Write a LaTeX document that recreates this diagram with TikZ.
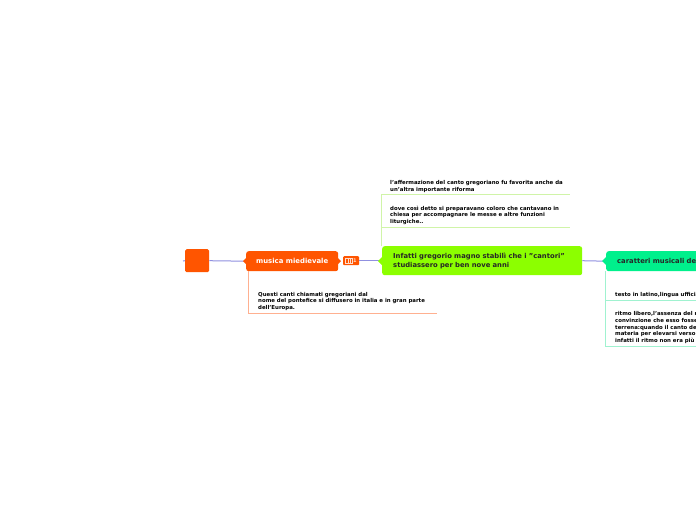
\documentclass[tikz,border=0pt]{standalone}
\usepackage{fontspec}
\setmainfont{DejaVu Sans}
\begin{document}
\begin{tikzpicture}[x=1pt,y=-1pt,
  every node/.style={font=\bfseries},
  conn/.style={draw=lineblue,line width=1pt},
  kid/.style={anchor=north west,inner sep=0pt,align=left,font=\bfseries\fontsize{5.4}{6.6}\selectfont,text=black},
  topic/.style={rounded corners=2.5pt,anchor=north west,inner sep=0pt},
]
\definecolor{orangeM}{HTML}{FF5500}
\definecolor{greenM}{HTML}{8CFF00}
\definecolor{tealM}{HTML}{00F08C}
\definecolor{lineblue}{HTML}{9090E0}
\definecolor{lineO}{HTML}{FFB090}
\definecolor{lineG}{HTML}{D0F4A8}
\definecolor{lineT}{HTML}{A0F2D0}
\useasboundingbox (0,0) rectangle (696,520);
\clip (0,0) rectangle (696,520);
\fill[white] (0,0) rectangle (696,520);

% nodes
\node[topic,fill=orangeM,minimum width=24pt,minimum height=23pt,rounded corners=1.5pt] (root) at (185,249) {};
\node[topic,fill=orangeM,minimum width=92pt,minimum height=20pt,text=white,font=\bfseries\fontsize{6.9}{8}\selectfont] (mm) at (246,251) {musica miedievale};
\node[anchor=north west,fill=orangeM,rounded corners=1pt,minimum width=16pt,minimum height=9pt,inner sep=0pt] (badge) at (343,256) {};
\draw[white!80!orangeM,line width=0.4pt] (345.5,258) rectangle (352,263);
\draw[white!80!orangeM,line width=0.3pt] (347.7,258)--(347.7,263) (349.8,258)--(349.8,263);
\node[anchor=west,inner sep=0pt,text=white!80!orangeM,font=\bfseries\fontsize{5}{6}\selectfont] at (353,260.5) {1};
\node[topic,fill=greenM,minimum width=196pt,minimum height=29pt,text width=178pt,align=left,inner xsep=11pt,text=black!85,font=\bfseries\fontsize{6.8}{9.2}\selectfont] (gr) at (382,246) {Infatti gregorio magno stabilì che i "cantori"\\studiassero per ben nove anni};
\node[topic,fill=tealM,minimum width=180pt,minimum height=20pt,text width=170pt,align=left,inner xsep=11pt,text=black!85,font=\bfseries\fontsize{6.8}{8}\selectfont] (te) at (606,251) {caratteri musicali del};

% main connectors
\draw[conn] (root.east) -- (mm.west);
\draw[conn] (badge.east) -- (gr.west);
\draw[conn] (gr.east) -- (te.west);
\draw[lineblue,line width=1pt] (183,261) -- (root.west);
\fill[orangeM] (246,258) -- (243,261) -- (246,264) -- cycle;
\fill[greenM] (382,257) -- (378,261) -- (382,265) -- cycle;
\fill[greenM] (578,257) -- (582,261) -- (578,265) -- cycle;
\fill[tealM] (606,257) -- (602,261) -- (606,265) -- cycle;
\fill[orangeM] (338,258) -- (341,261) -- (338,264) -- cycle;

% children of musica
\coordinate (mo1) at (248,313);
\coordinate (mo1e) at (437,313);
\draw[lineO,line width=0.8pt] (mm.south west -| mo1) -- (mo1) -- (mo1e);
\node[kid] (q1) at (258,292) {Questi canti chiamati gregoriani dal\\nome del pontefice si diffusero in italia e in gran parte\\dell'Europa.};

% children of gregorio
\coordinate (g1) at (381,194);
\coordinate (g1e) at (570,194);
\coordinate (g2) at (381,227);
\coordinate (g2e) at (570,227);
\draw[lineG,line width=0.8pt] (gr.north west -| g1) -- (g1) -- (g1e);
\draw[lineG,line width=0.8pt] (g2) -- (g2e);
\node[kid] (a1) at (390,180.5) {l'affermazione del canto gregoriano fu favorita anche da\\un'altra importante riforma};
\node[kid] (a2) at (390,205.5) {dove così detto si preparavano coloro che cantavano in\\chiesa per accompagnare le messe e altre funzioni\\liturgiche..};

% children of caratteri
\coordinate (t1) at (605,300);
\coordinate (t1e) at (700,300);
\coordinate (t2) at (605,346);
\coordinate (t2e) at (700,346);
\draw[lineT,line width=0.8pt] (te.south west -| t1) -- (t2) -- (t2e);
\draw[lineT,line width=0.8pt] (t1) -- (t1e);
\node[kid] (b1) at (615,292.5) {testo in latino,lingua ufficiale};
\node[kid] (b2) at (615,311.5) {ritmo libero,l'assenza del ritmo\\convinzione che esso fosse\\terrena:quando il canto del\\materia per elevarsi verso\\infatti il ritmo non era più};
\end{tikzpicture}
\end{document}
